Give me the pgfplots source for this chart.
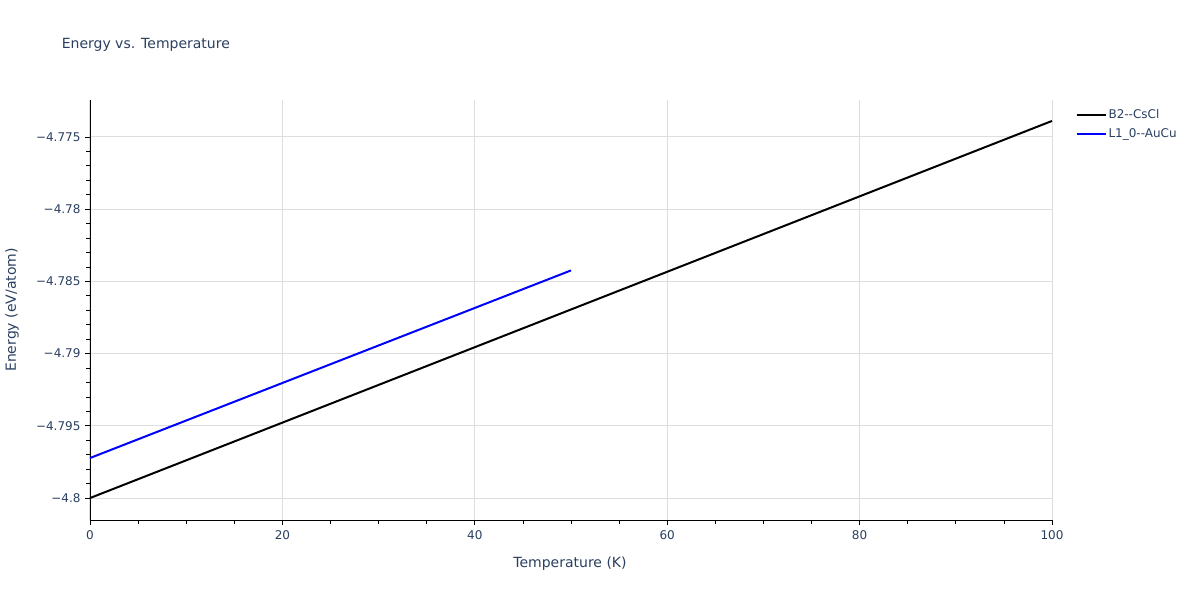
\documentclass[border=0pt]{standalone}
\usepackage{pgfplots}
\pgfplotsset{compat=1.18}
\usepackage{fontspec}
\setmainfont{DejaVu Sans}
\definecolor{txt}{HTML}{2A3F5F}
\definecolor{gridc}{RGB}{222,222,222}
\definecolor{blueline}{RGB}{0,0,255}
\begin{document}
\begin{tikzpicture}[x=1pt,y=1pt]
\useasboundingbox (0,0) rectangle (1200,600);
\begin{axis}[
  at={(90pt,80pt)}, anchor=south west,
  scale only axis, width=962pt, height=420pt,
  xmin=0, xmax=100, ymin=-4.80152, ymax=-4.77244,
  axis lines=left, axis line style={-, black, line width=0.9pt},
  tick align=outside, major tick length=5pt, minor tick length=4pt,
  tick style={black, line width=0.8pt},
  xtick={0,20,40,60,80,100},
  xticklabels={0,20,40,60,80,100},
  minor x tick num=3,
  ytick={-4.8,-4.795,-4.79,-4.785,-4.78,-4.775},
  yticklabels={−4.8,−4.795,−4.79,−4.785,−4.78,−4.775},
  minor y tick num=4,
  xmajorgrids, ymajorgrids,
  major grid style={gridc, line width=1pt},
  ticklabel style={font=\fontsize{12}{14}\selectfont, text=txt},
  xticklabel style={yshift=-2pt},
  yticklabel style={xshift=-1pt},
  xlabel={Temperature (K)}, ylabel={Energy (eV/atom)},
  xlabel style={font=\fontsize{14}{16}\selectfont, text=txt, at={(axis description cs:0.499,-0.1040)}, anchor=center},
  ylabel style={font=\fontsize{14}{16}\selectfont, text=txt, at={(axis description cs:-0.0811,0.5)}, anchor=center},
  title={Energy vs. Temperature},
  every axis title shift=0pt,
  title style={font=\fontsize{14}{16}\selectfont, text=txt, at={(axis description cs:-0.0330,1.131)}, anchor=west},
  legend style={at={(axis description cs:1.0232,0.988)}, anchor=north west, draw=none, fill=none,
    font=\fontsize{12}{14}\selectfont, text=txt, row sep=4.5pt, inner xsep=1pt},
  legend cell align=left,
  legend image post style={xscale=1.7},
  clip=false,
]
\addplot[black, line width=2pt] coordinates {(0,-4.80000) (100,-4.77389)};
\addlegendentry{B2{-}{-}CsCl}
\addplot[blueline, line width=2pt] coordinates {(0,-4.79723) (50,-4.78424)};
\addlegendentry{L1\_0{-}{-}AuCu}
\end{axis}
\end{tikzpicture}
\end{document}
